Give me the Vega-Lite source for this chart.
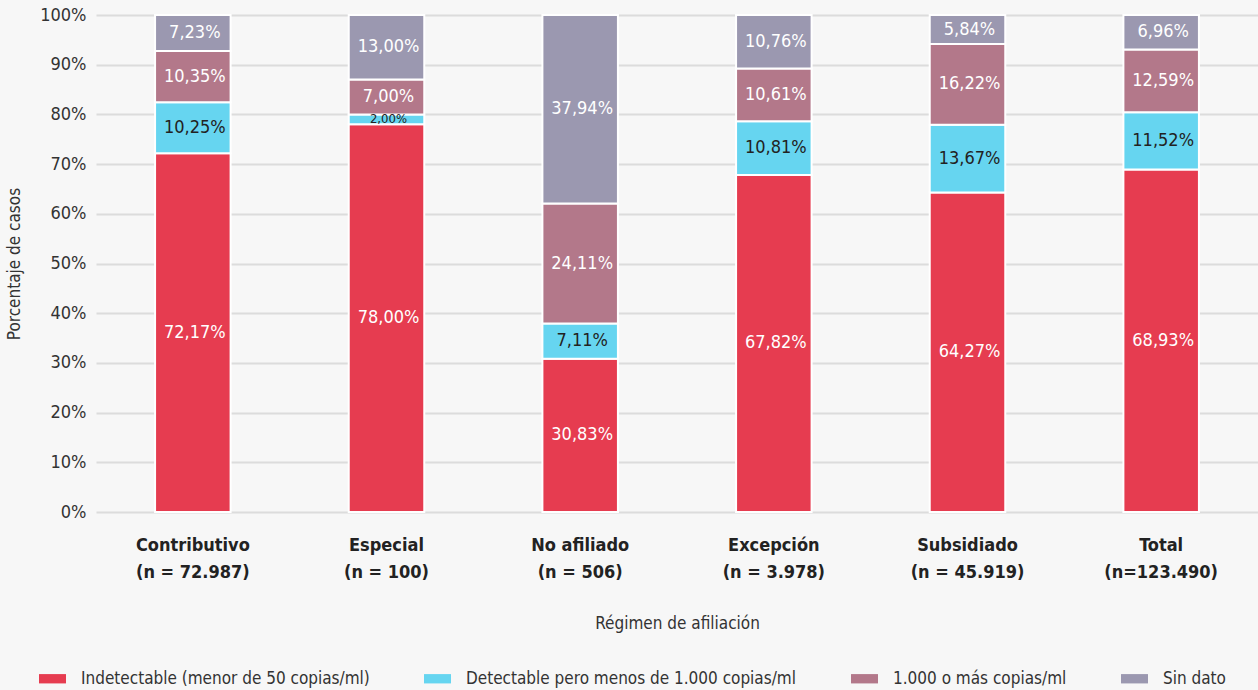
{
  "$schema": "https://vega.github.io/schema/vega-lite/v6.json",
  "width": 1162,
  "height": 497,
  "autosize": {"type": "none"},
  "padding": {"top": 15, "left": 96, "right": 0, "bottom": 178},
  "background": "#f7f7f7",
  "config": {
    "view": {"stroke": null},
    "font": "DejaVu Sans Condensed, Lato",
    "axis": {"labelFont": "DejaVu Sans Condensed, Lato", "titleFont": "DejaVu Sans Condensed, Lato"},
    "legend": {"labelFont": "DejaVu Sans Condensed, Lato"}
  },
  "data": {
    "values": [
      {"reg": "Contributivo|(n = 72.987)", "cat": "Indetectable (menor de 50 copias/ml)", "o": 1, "v": 72.17, "lab": "72,17%"},
      {"reg": "Contributivo|(n = 72.987)", "cat": "Detectable pero menos de 1.000 copias/ml", "o": 2, "v": 10.25, "lab": "10,25%"},
      {"reg": "Contributivo|(n = 72.987)", "cat": "1.000 o más copias/ml", "o": 3, "v": 10.35, "lab": "10,35%"},
      {"reg": "Contributivo|(n = 72.987)", "cat": "Sin dato", "o": 4, "v": 7.23, "lab": "7,23%"},
      {"reg": "Especial|(n = 100)", "cat": "Indetectable (menor de 50 copias/ml)", "o": 1, "v": 78.0, "lab": "78,00%"},
      {"reg": "Especial|(n = 100)", "cat": "Detectable pero menos de 1.000 copias/ml", "o": 2, "v": 2.0, "lab": "2,00%"},
      {"reg": "Especial|(n = 100)", "cat": "1.000 o más copias/ml", "o": 3, "v": 7.0, "lab": "7,00%"},
      {"reg": "Especial|(n = 100)", "cat": "Sin dato", "o": 4, "v": 13.0, "lab": "13,00%"},
      {"reg": "No afiliado|(n = 506)", "cat": "Indetectable (menor de 50 copias/ml)", "o": 1, "v": 30.83, "lab": "30,83%"},
      {"reg": "No afiliado|(n = 506)", "cat": "Detectable pero menos de 1.000 copias/ml", "o": 2, "v": 7.11, "lab": "7,11%"},
      {"reg": "No afiliado|(n = 506)", "cat": "1.000 o más copias/ml", "o": 3, "v": 24.11, "lab": "24,11%"},
      {"reg": "No afiliado|(n = 506)", "cat": "Sin dato", "o": 4, "v": 37.94, "lab": "37,94%"},
      {"reg": "Excepción|(n = 3.978)", "cat": "Indetectable (menor de 50 copias/ml)", "o": 1, "v": 67.82, "lab": "67,82%"},
      {"reg": "Excepción|(n = 3.978)", "cat": "Detectable pero menos de 1.000 copias/ml", "o": 2, "v": 10.81, "lab": "10,81%"},
      {"reg": "Excepción|(n = 3.978)", "cat": "1.000 o más copias/ml", "o": 3, "v": 10.61, "lab": "10,61%"},
      {"reg": "Excepción|(n = 3.978)", "cat": "Sin dato", "o": 4, "v": 10.76, "lab": "10,76%"},
      {"reg": "Subsidiado|(n = 45.919)", "cat": "Indetectable (menor de 50 copias/ml)", "o": 1, "v": 64.27, "lab": "64,27%"},
      {"reg": "Subsidiado|(n = 45.919)", "cat": "Detectable pero menos de 1.000 copias/ml", "o": 2, "v": 13.67, "lab": "13,67%"},
      {"reg": "Subsidiado|(n = 45.919)", "cat": "1.000 o más copias/ml", "o": 3, "v": 16.22, "lab": "16,22%"},
      {"reg": "Subsidiado|(n = 45.919)", "cat": "Sin dato", "o": 4, "v": 5.84, "lab": "5,84%"},
      {"reg": "Total|(n=123.490)", "cat": "Indetectable (menor de 50 copias/ml)", "o": 1, "v": 68.93, "lab": "68,93%"},
      {"reg": "Total|(n=123.490)", "cat": "Detectable pero menos de 1.000 copias/ml", "o": 2, "v": 11.52, "lab": "11,52%"},
      {"reg": "Total|(n=123.490)", "cat": "1.000 o más copias/ml", "o": 3, "v": 12.59, "lab": "12,59%"},
      {"reg": "Total|(n=123.490)", "cat": "Sin dato", "o": 4, "v": 6.96, "lab": "6,96%"}
    ]
  },
  "transform": [
    {"stack": "v", "groupby": ["reg"], "sort": [{"field": "o", "order": "ascending"}], "as": ["y0", "y1"]},
    {"calculate": "(datum.y0 + datum.y1) / 2", "as": "ym"}
  ],
  "encoding": {
    "x": {
      "field": "reg", "type": "nominal", "sort": null,
      "scale": {"paddingInner": 0.61, "paddingOuter": 0.305},
      "axis": {
        "title": "Régimen de afiliación",
        "labelExpr": "split(datum.label, '|')",
        "labelAngle": 0,
        "labelFontSize": 18,
        "labelFontWeight": "bold",
        "labelColor": "#222222",
        "labelLineHeight": 27,
        "labelPadding": 24,
        "labelBaseline": "top",
        "ticks": false,
        "domain": false,
        "grid": false,
        "titleFontSize": 17,
        "titleFontWeight": "normal",
        "titleColor": "#333333",
        "titlePadding": 34
      }
    }
  },
  "layer": [
    {
      "mark": {"type": "bar", "stroke": "#ffffff", "strokeWidth": 2},
      "encoding": {
        "y": {
          "field": "y0", "type": "quantitative",
          "scale": {"domain": [0, 100]},
          "axis": {
            "title": "Porcentaje de casos",
            "values": [0, 10, 20, 30, 40, 50, 60, 70, 80, 90, 100],
            "labelExpr": "datum.value + '%'",
            "labelFontSize": 18,
            "labelColor": "#333333",
            "labelPadding": 10,
            "ticks": false,
            "domain": false,
            "gridColor": "#dcdcdc",
            "gridWidth": 2,
            "titleFontSize": 17,
            "titleFontWeight": "normal",
            "titleColor": "#333333",
            "titlePadding": 16
          }
        },
        "y2": {"field": "y1"},
        "color": {
          "field": "cat", "type": "nominal",
          "sort": ["Indetectable (menor de 50 copias/ml)", "Detectable pero menos de 1.000 copias/ml", "1.000 o más copias/ml", "Sin dato"],
          "scale": {
            "domain": ["Indetectable (menor de 50 copias/ml)", "Detectable pero menos de 1.000 copias/ml", "1.000 o más copias/ml", "Sin dato"],
            "range": ["#e63c50", "#66d5f0", "#b3788a", "#9b98b0"]
          },
          "legend": {
            "title": null,
            "orient": "none",
            "legendX": -54,
            "legendY": 653,
            "direction": "horizontal",
            "symbolType": "M-1.3,-0.45L1.3,-0.45L1.3,0.45L-1.3,0.45Z",
            "symbolSize": 430,
            "symbolStrokeWidth": 0,
            "labelFontSize": 17,
            "labelLimit": 0,
            "labelColor": "#333333",
            "labelOffset": 18,
            "columnPadding": 54
          }
        }
      }
    },
    {
      "mark": {"type": "text", "baseline": "middle", "align": "center", "dx": 2},
      "encoding": {
        "y": {"field": "ym", "type": "quantitative"},
        "text": {"field": "lab"},
        "size": {"condition": {"test": "datum.v < 3", "value": 13}, "value": 18},
        "color": {"condition": {"test": "datum.o === 2", "value": "#222222"}, "value": "#ffffff"}
      }
    }
  ]
}
